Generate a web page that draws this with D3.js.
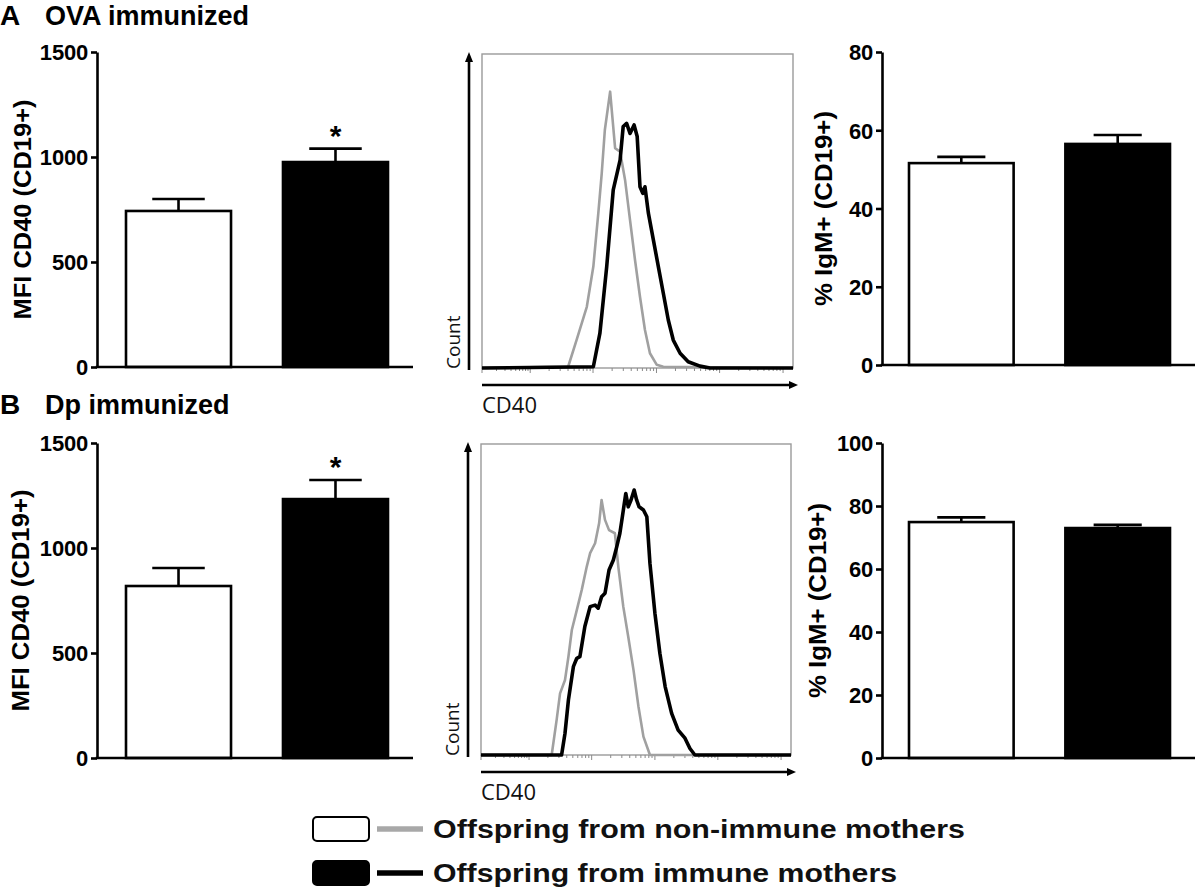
<!DOCTYPE html>
<html><head><meta charset="utf-8">
<script src="https://cdn.jsdelivr.net/npm/d3@7"></script>
<style>body{margin:0;background:#fff} svg{display:block}</style>
</head><body>
<svg id="c" width="1200" height="896"></svg>
<script>
// ---------------- DATA ----------------
const groups = ["Offspring from non-immune mothers", "Offspring from immune mothers"];
const groupKeys = ["non", "imm"];

// Panel A (OVA immunized)
const ovaMfiMean = [743, 976];
const ovaMfiSem = [57, 64];
const ovaIgmMean = [51.6, 56.5];
const ovaIgmSem = [1.6, 2.3];
// Panel B (Dp immunized)
const dpMfiMean = [819, 1233];
const dpMfiSem = [86, 91];
const dpIgmMean = [74.9, 73.0];
const dpIgmSem = [1.5, 1.0];

const mfiTicks = [0, 500, 1000, 1500];
const igmTicksA = [0, 20, 40, 60, 80];
const igmTicksB = [0, 20, 40, 60, 80, 100];
const significant = [false, true];

// Flow histograms: [CD40 channel (0-1000), count (% of max)]
const ovaHistNon = [[0,0],[277,0.4],[304,8.9],[337,19.5],[358,32.3],[374,49.3],[385,62],[395,75.8],[412,88],[420,79],[428,70],[444,68.9],[460,59.9],[476,47.1],[492,34.4],[508,22.7],[524,12.1],[540,4.7],[562,1],[583,0.4],[1000,0]];
const ovaHistImm = [[0,0],[358,0.4],[379,11],[401,32.3],[422,56.7],[444,66.2],[454,76.9],[465,77.9],[476,74.7],[489,77.4],[499,73.7],[508,57.7],[517,55.6],[524,57.7],[535,49.3],[551,40.8],[567,32.3],[583,23.8],[599,15.3],[615,8.9],[637,4.7],[663,2],[701,0.6],[733,0],[1000,0]];
const dpHistNon = [[0,0],[228,0],[244,11.3],[255,19.8],[271,24.1],[282,31.6],[293,40.2],[309,46.6],[325,53.1],[341,60.5],[352,64.9],[368,68.1],[381,74.5],[389,82],[400,75.6],[413,72.3],[432,71.3],[443,60.5],[459,47.7],[475,38],[492,27.3],[508,15.5],[524,5.9],[545,0],[1000,0]];
const dpHistImm = [[0,0],[260,0],[271,7],[282,17.7],[298,28.4],[309,31.1],[319,31.6],[335,41.3],[352,47.7],[368,48.2],[378,47.2],[389,50.9],[400,52],[413,59.5],[427,62.7],[438,67],[448,71.3],[456,76.6],[467,84.1],[475,79.8],[484,82],[494,85.2],[502,82],[510,79.8],[524,78.8],[535,76.6],[545,61.6],[561,45.6],[577,32.7],[594,22],[615,13.4],[636,8],[658,5.4],[674,2.1],[690,0],[1000,0]];
const histDecades = [0, 155, 357, 561, 764, 968];

// ---------------- DRAWING ----------------
const svg = d3.select("#c");
const FONT = "'Liberation Sans', Arial, Helvetica, sans-serif";
const HFONT = "'Open Sans', 'Noto Sans', sans-serif";

function titles(letter, title, y) {
  svg.append("text").attr("x", 0).attr("y", y).attr("font-family", FONT)
    .attr("font-weight", "bold").attr("font-size", 28).text(letter);
  svg.append("text").attr("x", 45).attr("y", y).attr("font-family", FONT)
    .attr("font-weight", "bold").attr("font-size", 27).text(title);
}
titles("A", "OVA immunized", 25);
titles("B", "Dp immunized", 414);

function barPanel(o) {
  const g = svg.append("g");
  const y = d3.scaleLinear().domain([0, o.max]).range([o.y0, o.y1]);
  const x = d3.scaleBand().domain(groupKeys).range([o.b0, o.b1]).paddingInner(0.331).paddingOuter(0);
  g.selectAll("rect.bar").data(o.mean).join("rect")
    .attr("x", (d, i) => x(groupKeys[i]))
    .attr("y", d => y(d))
    .attr("width", x.bandwidth())
    .attr("height", d => y(0) - y(d))
    .attr("fill", (d, i) => i === 0 ? "#fff" : "#000")
    .attr("stroke", "#000").attr("stroke-width", 2.6);
  const capW = x.bandwidth() * o.cap;
  o.mean.forEach((m, i) => {
    const cx = x(groupKeys[i]) + x.bandwidth() / 2;
    g.append("line").attr("x1", cx).attr("x2", cx).attr("y1", y(m)).attr("y2", y(m + o.sem[i]))
      .attr("stroke", "#000").attr("stroke-width", 2.6);
    g.append("line").attr("x1", cx - capW / 2).attr("x2", cx + capW / 2)
      .attr("y1", y(m + o.sem[i])).attr("y2", y(m + o.sem[i]))
      .attr("stroke", "#000").attr("stroke-width", 2.6);
    if (o.stars && significant[i]) {
      g.append("text").attr("x", cx).attr("y", y(m + o.sem[i]) - 3)
        .attr("text-anchor", "middle").attr("font-family", FONT).attr("font-weight", "bold")
        .attr("font-size", 30).text("*");
    }
  });
  const ax = g.append("g").attr("transform", `translate(${o.ax},0)`)
    .call(d3.axisLeft(y).tickValues(o.ticks).tickFormat(d3.format("d"))
      .tickSize(6).tickSizeOuter(0).tickPadding(3));
  ax.select(".domain").attr("stroke", "#000").attr("stroke-width", 2.6);
  ax.selectAll(".tick line").attr("stroke", "#000").attr("stroke-width", 2.6);
  ax.selectAll(".tick text").attr("font-family", FONT).attr("font-weight", "bold")
    .attr("font-size", 22).attr("fill", "#000").attr("dy", "0.36em").attr("letter-spacing", "-0.2");
  g.append("line").attr("x1", o.ax - 1.3).attr("x2", o.xEnd).attr("y1", y(0)).attr("y2", y(0))
    .attr("stroke", "#000").attr("stroke-width", 2.6);
  g.append("text").attr("transform", `translate(${o.lx},${(o.y0 + o.y1) / 2}) rotate(-90)`)
    .attr("text-anchor", "middle").attr("font-family", FONT).attr("font-weight", "bold")
    .attr("font-size", o.lsize).attr("textLength", o.llen).attr("lengthAdjust", "spacingAndGlyphs")
    .text(o.label);
}

barPanel({max: 1500, ticks: mfiTicks, mean: ovaMfiMean, sem: ovaMfiSem, y0: 367, y1: 52,
  b0: 126, b1: 388, ax: 97, xEnd: 413, cap: 0.5, stars: true,
  label: "MFI CD40 (CD19+)", lx: 31, lsize: 24, llen: 220});
barPanel({max: 80, ticks: igmTicksA, mean: ovaIgmMean, sem: ovaIgmSem, y0: 365, y1: 52,
  b0: 909, b1: 1170, ax: 882, xEnd: 1195, cap: 0.46, stars: false,
  label: "% IgM+ (CD19+)", lx: 832, lsize: 24, llen: 195});
barPanel({max: 1500, ticks: mfiTicks, mean: dpMfiMean, sem: dpMfiSem, y0: 758, y1: 443,
  b0: 126, b1: 388, ax: 97, xEnd: 413, cap: 0.5, stars: true,
  label: "MFI CD40 (CD19+)", lx: 29, lsize: 24, llen: 222});
barPanel({max: 100, ticks: igmTicksB, mean: dpIgmMean, sem: dpIgmSem, y0: 758, y1: 443,
  b0: 909, b1: 1170, ax: 882, xEnd: 1195, cap: 0.46, stars: false,
  label: "% IgM+ (CD19+)", lx: 826, lsize: 24, llen: 195});

function histPanel(o) {
  const g = svg.append("g");
  const x = d3.scaleLinear().domain([0, 1000]).range([o.x0, o.x1]);
  const y = d3.scaleLinear().domain([0, 100]).range([o.y0, o.y1]);
  g.append("rect").attr("x", o.x0).attr("y", o.y1).attr("width", o.x1 - o.x0).attr("height", o.y0 - o.y1)
    .attr("fill", "none").attr("stroke", "#9a9a9a").attr("stroke-width", 1.4);
  const tks = [];
  for (let d = 0; d < histDecades.length - 1; d++) {
    const a = histDecades[d], b = histDecades[d + 1];
    tks.push({v: a, major: true});
    for (let k = 2; k <= 9; k++) tks.push({v: a + Math.log10(k) * (b - a), major: false});
  }
  tks.push({v: histDecades[histDecades.length - 1], major: true});
  g.selectAll("line.tk").data(tks).join("line")
    .attr("x1", d => x(d.v)).attr("x2", d => x(d.v))
    .attr("y1", y(0)).attr("y2", d => y(0) + (d.major ? 5 : 3))
    .attr("stroke", "#8a8a8a").attr("stroke-width", 1);
  const line = d3.line().x(d => x(d[0])).y(d => y(d[1]));
  g.append("path").datum(o.non).attr("d", line).attr("fill", "none")
    .attr("stroke", "#a0a0a0").attr("stroke-width", 2.6).attr("stroke-linejoin", "round");
  g.append("path").datum(o.imm).attr("d", line).attr("fill", "none")
    .attr("stroke", "#000").attr("stroke-width", 3.6).attr("stroke-linejoin", "round");
  const ax = o.x0 - 13;
  g.append("line").attr("x1", ax).attr("x2", ax).attr("y1", o.y0 + 2).attr("y2", o.y1 + 6)
    .attr("stroke", "#000").attr("stroke-width", 2.6);
  g.append("path").attr("d", `M${ax - 4},${o.y1 + 8} L${ax},${o.y1 - 2} L${ax + 4},${o.y1 + 8} Z`).attr("fill", "#000");
  const ay = o.y0 + 17;
  g.append("line").attr("x1", o.x0).attr("x2", o.x1 - 2).attr("y1", ay).attr("y2", ay)
    .attr("stroke", "#000").attr("stroke-width", 2.6);
  g.append("path").attr("d", `M${o.x1 - 4},${ay - 4} L${o.x1 + 5},${ay} L${o.x1 - 4},${ay + 4} Z`).attr("fill", "#000");
  g.append("text").attr("transform", `translate(${ax - 9},${o.y0 + 1}) rotate(-90)`)
    .attr("font-family", HFONT).attr("font-size", 19).attr("fill", "#111").text("Count");
  g.append("text").attr("x", o.x0).attr("y", o.y0 + 45)
    .attr("font-family", HFONT).attr("font-size", 22).attr("fill", "#111").text("CD40");
}
histPanel({x0: 482, x1: 793, y0: 368, y1: 54, non: ovaHistNon, imm: ovaHistImm});
histPanel({x0: 481, x1: 791, y0: 755, y1: 444, non: dpHistNon, imm: dpHistImm});

const lg = svg.append("g");
groups.forEach((name, i) => {
  const cy = 829 + i * 44;
  lg.append("rect").attr("x", 313).attr("y", cy - 12).attr("width", 56).attr("height", 24).attr("rx", 4)
    .attr("fill", i === 0 ? "#fff" : "#000").attr("stroke", "#000").attr("stroke-width", 2);
  lg.append("line").attr("x1", 377).attr("x2", 423).attr("y1", cy).attr("y2", cy)
    .attr("stroke", i === 0 ? "#a8a8a8" : "#000").attr("stroke-width", 5.5);
  lg.append("text").attr("x", 433).attr("y", cy).attr("dy", "0.36em")
    .attr("font-family", FONT).attr("font-weight", "bold").attr("font-size", 25).attr("fill", "#111")
    .attr("textLength", i === 0 ? 532 : 464).attr("lengthAdjust", "spacingAndGlyphs").text(name);
});
</script>
</body></html>
